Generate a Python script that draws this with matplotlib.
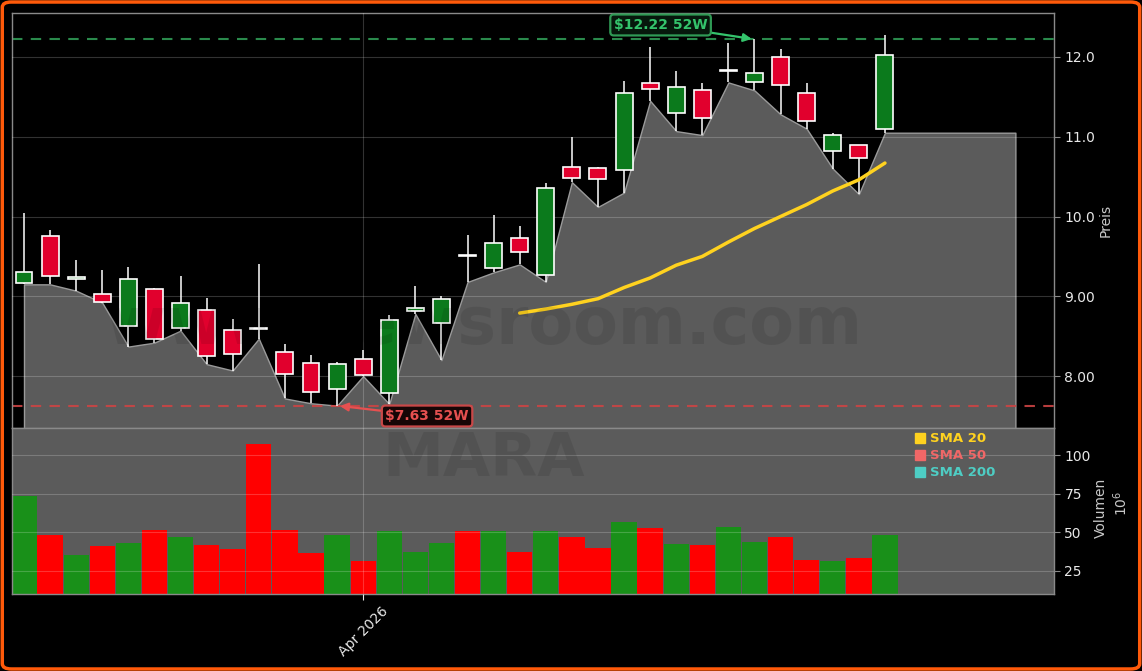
import numpy as np
import matplotlib
matplotlib.use("Agg")
import matplotlib.pyplot as plt
from matplotlib.lines import Line2D
from matplotlib.patches import FancyBboxPatch

# ---------------- data ----------------
opens  = [9.17, 9.75, 9.22, 9.03, 8.63, 9.09, 8.60, 8.83, 8.58, 8.59, 8.30, 8.16, 7.84, 8.21, 7.79, 8.82, 8.67,
          9.51, 9.35, 9.73, 9.27, 10.62, 10.61, 10.58, 11.67, 11.30, 11.58, 11.82, 11.68, 12.00, 11.55, 10.82, 10.90, 11.10]
closes = [9.30, 9.25, 9.24, 8.93, 9.22, 8.47, 8.92, 8.25, 8.28, 8.58, 8.03, 7.80, 8.15, 8.02, 8.70, 8.85, 8.97,
          9.50, 9.67, 9.55, 10.36, 10.48, 10.47, 11.55, 11.60, 11.62, 11.24, 11.83, 11.80, 11.65, 11.20, 11.02, 10.73, 12.03]
highs  = [10.05, 9.83, 9.45, 9.33, 9.37, 9.10, 9.25, 8.98, 8.72, 9.40, 8.40, 8.27, 8.18, 8.33, 8.77, 9.13, 9.00,
          9.77, 10.02, 9.88, 10.42, 11.00, 10.62, 11.70, 12.13, 11.82, 11.67, 12.18, 12.22, 12.10, 11.67, 11.05, 10.90, 12.27]
lows   = [9.15, 9.15, 9.07, 8.92, 8.37, 8.42, 8.57, 8.15, 8.07, 8.47, 7.72, 7.66, 7.63, 8.00, 7.65, 8.78, 8.20,
          9.18, 9.30, 9.40, 9.18, 10.43, 10.12, 10.30, 11.45, 11.07, 11.02, 11.68, 11.58, 11.28, 11.10, 10.60, 10.28, 11.05]
volumes = [73.4, 48.3, 35.3, 41.2, 43.1, 51.5, 47.0, 41.8, 39.2, 107.0, 51.5, 36.6, 48.3, 31.5, 50.8, 37.3, 43.1,
           50.8, 50.8, 37.3, 50.8, 47.0, 39.9, 56.7, 52.8, 42.4, 41.8, 53.4, 43.7, 47.0, 32.1, 31.5, 33.4, 48.3]
sma20 = [np.nan] * 19 + [8.79, 8.84, 8.90, 8.97, 9.11, 9.23, 9.39, 9.50, 9.68, 9.85, 10.00, 10.15, 10.32, 10.46, 10.67]
high_52w = 12.22
low_52w = 7.63
area_extension_days = 5
month_tick_index = 13
month_tick_label = "Apr 2026"
price_ticks = [8.0, 9.0, 10.0, 11.0, 12.0]
price_tick_labels = ["8.00", "9.00", "10.0", "11.0", "12.0"]
vol_ticks = [25, 50, 75, 100]
vol_tick_labels = ["25", "50", "75", "100"]
legend_labels = ["SMA 20", "SMA 50", "SMA 200"]
legend_colors = ["#ffd21f", "#f06767", "#4ecdc4"]
ticker = "MARA"
watermark = "www.newsroom.com"

# ---------------- styling ----------------
BG = "#000000"
GREY_FILL = "#5b5b5b"
C_UP = "#0b7a1c"
C_DN = "#e1002d"
V_UP = "#199019"
V_DN = "#ff0000"
SPINE = "#8a8a8a"
TXT = "#e8e8e8"

W, H = 1142, 671
fig = plt.figure(figsize=(W / 100, H / 100), dpi=100, facecolor=BG)

def fx(px):
    return px / W

def fy(py):
    return 1 - py / H

left, right = fx(12), fx(1054)
ax = fig.add_axes([left, fy(428), right - left, fy(13) - fy(428)], facecolor=BG)
axv = fig.add_axes([left, fy(594), right - left, fy(428) - fy(594)], facecolor=GREY_FILL, sharex=ax)

idx = np.arange(len(opens))
o = np.array(opens); c = np.array(closes); h = np.array(highs); l = np.array(lows)
up = c >= o

# grey area under lows, extended a few days
fill_x = np.append(idx, idx[-1] + area_extension_days)
fill_y = np.append(l, l[-1])
ax.fill_between(fill_x, fill_y, 6.5, facecolor=GREY_FILL, edgecolor="#9a9a9a", linewidth=1.0, zorder=1)

# wicks and bodies
ax.vlines(idx, l, h, color="white", linewidth=1.1, zorder=3)
body_h = np.where(np.abs(c - o) < 0.012, 0.012, c - o)
ax.bar(idx, body_h, bottom=o, width=0.65, color=np.where(up, C_UP, C_DN),
       edgecolor="white", linewidth=1.2, zorder=4)

# SMA 20
ax.plot(idx, sma20, color="#ffd21f", linewidth=2.5, zorder=5, solid_capstyle="round")

# 52W lines
ax.axhline(high_52w, color="#2f9a55", linestyle=(0, (5, 4)), linewidth=1.5, alpha=0.9, zorder=2)
ax.axhline(low_52w, color="#cc4444", linestyle=(0, (5, 4)), linewidth=1.5, alpha=0.9, zorder=2)

i_hi = int(np.argmin(np.abs(h - high_52w)))
i_lo = int(np.argmin(np.abs(l - low_52w)))
ax.annotate(r"\$%.2f 52W" % high_52w, xy=(i_hi, high_52w), xytext=(24.4, 12.40),
            color="#34c46c", fontsize=10, fontweight="bold", ha="center", va="center",
            bbox=dict(boxstyle="round,pad=0.25", facecolor="#06180c", edgecolor="#2f9a55", linewidth=1.6),
            arrowprops=dict(arrowstyle="-|>", color="#34c46c", linewidth=1.6, shrinkA=0, shrinkB=2,
                            mutation_scale=12), zorder=7)
ax.annotate(r"\$%.2f 52W" % low_52w, xy=(i_lo, low_52w), xytext=(15.45, 7.50),
            color="#e65050", fontsize=10, fontweight="bold", ha="center", va="center",
            bbox=dict(boxstyle="round,pad=0.25", facecolor="#160606", edgecolor="#c94848", linewidth=1.6),
            arrowprops=dict(arrowstyle="-|>", color="#e65050", linewidth=1.6, shrinkA=0, shrinkB=2,
                            mutation_scale=12), zorder=7)

# volume
axv.bar(idx, volumes, width=0.97, color=np.where(up, V_UP, V_DN), zorder=2, linewidth=0)

# axes limits / ticks
ax.set_xlim(-0.46, 39.48)
ax.set_ylim(7.35, 12.55)
axv.set_ylim(10, 117.5)

for a in (ax, axv):
    a.yaxis.tick_right()
    a.yaxis.set_label_position("right")
    a.tick_params(axis="y", colors=SPINE, labelcolor=TXT, labelsize=10, length=4)
    for s in a.spines.values():
        s.set_color(SPINE)
        s.set_linewidth(1.0)
    a.set_axisbelow(False)
    a.grid(True, color="white", alpha=0.2, linewidth=0.8, zorder=2.5)

ax.set_yticks(price_ticks, price_tick_labels)
axv.set_yticks(vol_ticks, vol_tick_labels)
ax.tick_params(axis="x", bottom=False, labelbottom=False)
axv.set_xticks([month_tick_index], [month_tick_label])
axv.tick_params(axis="x", colors=TXT, labelcolor=TXT, labelsize=10, rotation=45, length=4)
for lab in axv.get_xticklabels():
    lab.set_ha("center")

ax.set_ylabel("Preis", color="#c8c8c8", fontsize=10)
ax.yaxis.set_label_coords((1099 - 12) / 1042, 0.5)
axv.set_ylabel("Volumen", color="#c8c8c8", fontsize=10)
axv.yaxis.set_label_coords((1094 - 12) / 1042, 0.52)
fig.text(fx(1121), fy(503), r"$10^{6}$", color="#c8c8c8", fontsize=10, rotation=90, ha="center", va="center")

# legend
handles = [Line2D([], [], marker="s", linestyle="None", color=col, markersize=7) for col in legend_colors]
leg = axv.legend(handles, legend_labels, loc="upper left", bbox_to_anchor=(0.856, 1.03), frameon=False,
                 labelcolor=legend_colors, prop={"weight": "bold", "size": 9.5},
                 handletextpad=0.25, labelspacing=0.3, handlelength=1.0, borderaxespad=0.3)
leg.set_zorder(8)

# watermarks
fig.text(fx(484), fy(326), watermark, color="black", alpha=0.09, fontsize=47, fontweight="bold",
         ha="center", va="center", zorder=6)
fig.text(fx(484), fy(460), ticker, color="black", alpha=0.09, fontsize=44, fontweight="bold",
         ha="center", va="center", zorder=6)

# orange rounded border
border = FancyBboxPatch((0.002, 0.003), 0.996, 0.994, boxstyle="round,pad=0,rounding_size=0.008",
                        transform=fig.transFigure, facecolor="none", edgecolor="#ff5a0a", linewidth=2.5,
                        zorder=10)
fig.patches.append(border)

fig.savefig("out.png", dpi=100, facecolor=BG)
